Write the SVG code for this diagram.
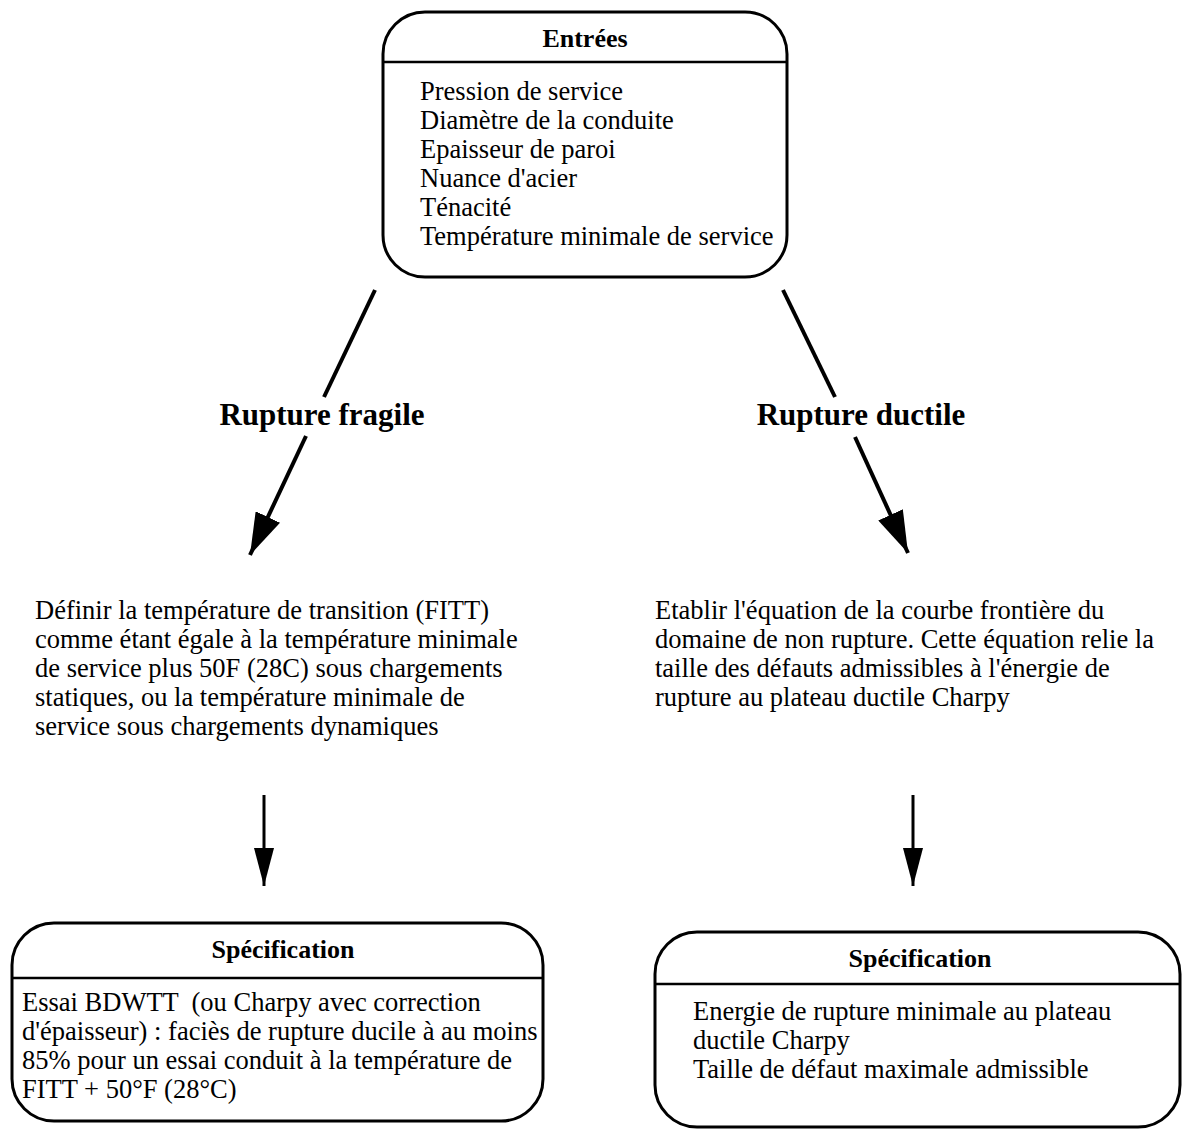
<svg xmlns="http://www.w3.org/2000/svg" width="1187" height="1129" viewBox="0 0 1187 1129">
<style>
.box{fill:none;stroke:#000;stroke-width:3}
.div{stroke:#000;stroke-width:2.5}
.t{font-family:"Liberation Serif","Times New Roman",serif;font-size:26.5px;fill:#000;white-space:pre}
.h{font-family:"Liberation Serif","Times New Roman",serif;font-size:26px;font-weight:bold;fill:#000;text-anchor:middle}
.lab{font-family:"Liberation Serif","Times New Roman",serif;font-size:31px;font-weight:bold;fill:#000;text-anchor:middle}
.c{stroke:#000;stroke-width:4;fill:none}
.v{stroke:#000;stroke-width:3;fill:none}
</style>
<defs>
<marker id="ah" markerUnits="userSpaceOnUse" markerWidth="42" markerHeight="27" refX="42" refY="13.5" orient="auto" viewBox="0 0 42 27">
<path d="M0,0 L42,13.5 L0,27 Z" fill="#000"/>
</marker>
<marker id="ah2" markerUnits="userSpaceOnUse" markerWidth="38" markerHeight="20" refX="38" refY="10" orient="auto" viewBox="0 0 38 20">
<path d="M0,0 L38,10 L0,20 Z" fill="#000"/>
</marker>
</defs>
<g id="entrees">
<rect class="box" x="383" y="12" width="404" height="265" rx="42"/>
<line class="div" x1="383" y1="62" x2="787" y2="62"/>
<text class="h" x="585" y="47">Entrées</text>
<text class="t" x="420" y="100">Pression de service</text>
<text class="t" x="420" y="129">Diamètre de la conduite</text>
<text class="t" x="420" y="158">Epaisseur de paroi</text>
<text class="t" x="420" y="187">Nuance d'acier</text>
<text class="t" x="420" y="216">Ténacité</text>
<text class="t" x="420" y="245">Température minimale de service</text>
</g>
<g id="rupture-fragile">
<text class="lab" x="322" y="425">Rupture fragile</text>
</g>
<g id="rupture-ductile">
<text class="lab" x="861" y="425">Rupture ductile</text>
</g>
<g id="fitt">
<text class="t" x="35" y="619">Définir la température de transition (FITT)</text>
<text class="t" x="35" y="648">comme étant égale à la température minimale</text>
<text class="t" x="35" y="677">de service plus 50F (28C) sous chargements</text>
<text class="t" x="35" y="706">statiques, ou la température minimale de</text>
<text class="t" x="35" y="735">service sous chargements dynamiques</text>
</g>
<g id="equation">
<text class="t" x="655" y="619">Etablir l'équation de la courbe frontière du</text>
<text class="t" x="655" y="648">domaine de non rupture. Cette équation relie la</text>
<text class="t" x="655" y="677">taille des défauts admissibles à l'énergie de</text>
<text class="t" x="655" y="706">rupture au plateau ductile Charpy</text>
</g>
<g id="spec-fragile">
<rect class="box" x="12" y="923" width="531" height="198" rx="42"/>
<line class="div" x1="12" y1="978" x2="543" y2="978"/>
<text class="h" x="283" y="958">Spécification</text>
<text class="t" x="22" y="1011">Essai BDWTT  (ou Charpy avec correction</text>
<text class="t" x="22" y="1040">d'épaisseur) : faciès de rupture ducile à au moins</text>
<text class="t" x="22" y="1069">85% pour un essai conduit à la température de</text>
<text class="t" x="22" y="1098">FITT + 50°F (28°C)</text>
</g>
<g id="spec-ductile">
<rect class="box" x="655" y="932" width="525" height="195" rx="42"/>
<line class="div" x1="655" y1="984" x2="1180" y2="984"/>
<text class="h" x="920" y="967">Spécification</text>
<text class="t" x="693" y="1020">Energie de rupture minimale au plateau</text>
<text class="t" x="693" y="1049">ductile Charpy</text>
<text class="t" x="693" y="1078">Taille de défaut maximale admissible</text>
</g>
<g id="connectors">
<line class="c" x1="375" y1="290" x2="324" y2="397"/>
<line class="c" x1="306" y1="436" x2="250" y2="555" marker-end="url(#ah)"/>
<line class="c" x1="783" y1="290" x2="835" y2="397"/>
<line class="c" x1="855" y1="437" x2="908" y2="553" marker-end="url(#ah)"/>
<line class="v" x1="264" y1="795" x2="264" y2="886" marker-end="url(#ah2)"/>
<line class="v" x1="913" y1="795" x2="913" y2="886" marker-end="url(#ah2)"/>
</g>
</svg>
